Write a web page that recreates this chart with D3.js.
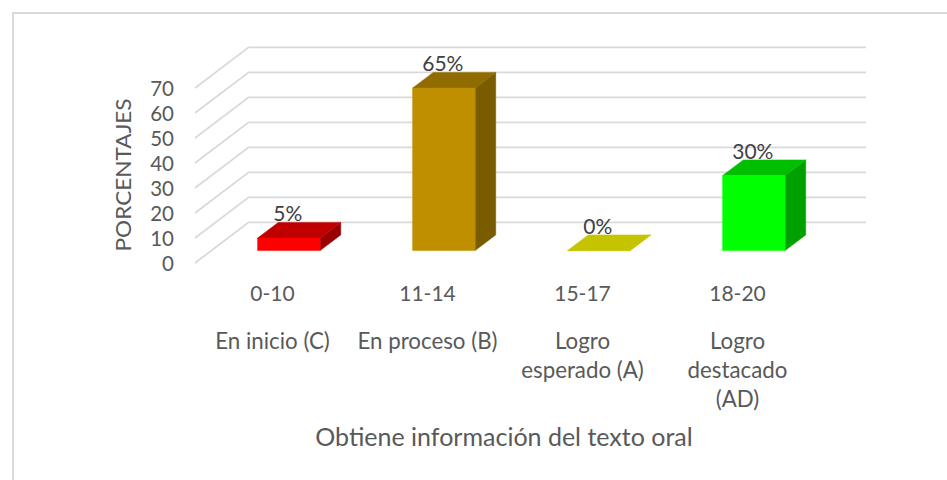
<!DOCTYPE html>
<html lang="es">
<head>
<meta charset="UTF-8">
<title>Obtiene información del texto oral</title>
<style>
  body { margin: 0; background: #fff; }
  text { font-family: Lato, "Open Sans", sans-serif; fill: #595959; }
</style>
</head>
<body>
<div id="chart"></div>
<script src="https://d3js.org/d3.v7.min.js"></script>
<script>
// Data
var ranges = ["0-10", "11-14", "15-17", "18-20"]
var levels = [["En inicio (C)"], ["En proceso (B)"], ["Logro", "esperado (A)"], ["Logro", "destacado", "(AD)"]]
var values = [5, 65, 0, 30]
var valueLabels = ["5%", "65%", "0%", "30%"]
var frontColors = ["#ff0000", "#bf8f00", "#c4c400", "#00ff00"]
var topColors = ["#c00000", "#8f6b00", "#c4c400", "#00bf00"]
var sideColors = ["#990000", "#7a5c00", "#c4c400", "#00a000"]
var yTicks = [0, 10, 20, 30, 40, 50, 60, 70]
var yTitle = "PORCENTAJES"
var xTitle = "Obtiene información del texto oral"

var width = 947
var height = 480

var svg = d3.select("#chart").append("svg")
    .attr("width", width)
    .attr("height", height)
    .style("display", "block")

// Front plane scales
var x = d3.scaleBand().domain(d3.range(ranges.length)).range([195, 815])
var y = d3.scaleLinear().domain([0, 70]).range([263, 88])

// Depth: z=0 front of the floor, z=1 back wall
var zx = d3.scaleLinear().domain([0, 1]).range([0, 53.6])
var zy = d3.scaleLinear().domain([0, 1]).range([0, -40.7])
var barFront = 0.305
var barBack = 0.69
var barWidth = 62.5

function pt(px, v, z) { return [px + zx(z), y(v) + zy(z)] }
var line = d3.line()

// Chart frame (open on the right and at the bottom)
svg.append("path")
    .attr("d", "M13,480V13H947")
    .attr("fill", "none")
    .attr("stroke", "#d9d9d9")
    .attr("stroke-width", 2)

// Gridlines: side wall diagonal + back wall
var grid = svg.append("g").attr("fill", "none").attr("stroke", "#d9d9d9").attr("stroke-width", 1.8)
yTicks.forEach(function (t) {
    grid.append("path").attr("d", line([
        pt(x.range()[0], t, 0),
        pt(x.range()[0], t, 1),
        pt(x.range()[1] - 2.6, t, 1)
    ]))
})

// Bars
var bars = svg.selectAll(".bar").data(values).enter().append("g").attr("class", "bar")

bars.each(function (v, i) {
    var g = d3.select(this)
    var fx0 = x(i) + x.bandwidth() / 2 - barWidth / 2
    var fx1 = fx0 + barWidth
    function face(points, color) {
        g.append("path").attr("d", line(points) + "Z").attr("fill", color).attr("stroke", color).attr("stroke-width", 0.5)
    }
    // right side
    face([pt(fx1, 0, barFront), pt(fx1, 0, barBack), pt(fx1, v, barBack), pt(fx1, v, barFront)], sideColors[i])
    // top
    face([pt(fx0, v, barFront), pt(fx0, v, barBack), pt(fx1, v, barBack), pt(fx1, v, barFront)], topColors[i])
    // front
    face([pt(fx0, 0, barFront), pt(fx1, 0, barFront), pt(fx1, v, barFront), pt(fx0, v, barFront)], frontColors[i])

    // value label sits over the front centre, on the back edge of the top
    var top = pt(fx0 + barWidth / 2, v, barFront)
    var back = pt(fx0, v, barBack)
    g.append("text")
        .attr("x", top[0] - 1)
        .attr("y", back[1] - 1)
        .attr("text-anchor", "middle")
        .attr("font-size", 21)
        .style("fill", "#404040")
        .text(valueLabels[i])
})

// Y axis labels
svg.append("g").selectAll("text").data(yTicks).enter().append("text")
    .attr("x", 174)
    .attr("y", function (d) { return y(d) + 0.5 })
    .attr("dy", "0.35em")
    .attr("text-anchor", "end")
    .attr("font-size", 20.5)
    .text(function (d) { return d })

svg.append("text")
    .attr("transform", "translate(131,175) rotate(-90)")
    .attr("text-anchor", "middle")
    .attr("font-size", 22)
    .attr("textLength", 153)
    .attr("lengthAdjust", "spacingAndGlyphs")
    .text(yTitle)

// Category labels, two levels
svg.append("g").selectAll("text").data(ranges).enter().append("text")
    .attr("x", function (d, i) { return x(i) + x.bandwidth() / 2 })
    .attr("y", 301)
    .attr("text-anchor", "middle")
    .attr("font-size", 21)
    .text(function (d) { return d })

levels.forEach(function (rows, i) {
    rows.forEach(function (r, j) {
        svg.append("text")
            .attr("x", x(i) + x.bandwidth() / 2)
            .attr("y", 349 + j * 29)
            .attr("text-anchor", "middle")
            .attr("font-size", 22.3)
            .text(r)
    })
})

svg.append("text")
    .attr("x", 504)
    .attr("y", 446)
    .attr("text-anchor", "middle")
    .attr("font-size", 25)
    .text(xTitle)
</script>
</body>
</html>
